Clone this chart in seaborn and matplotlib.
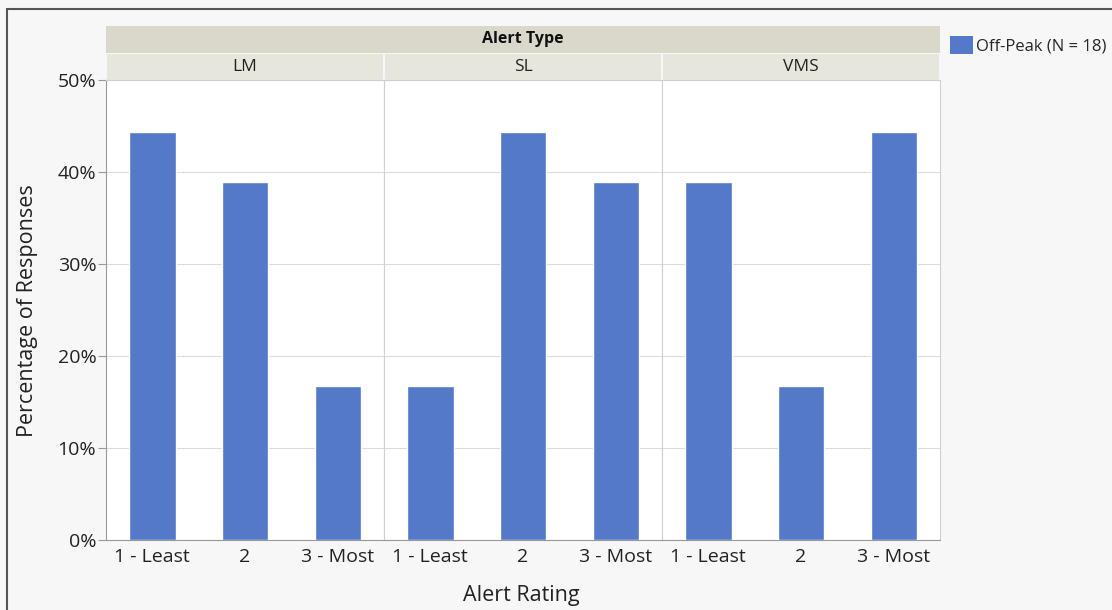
import numpy as np
import pandas as pd
import matplotlib
matplotlib.use("Agg")
import matplotlib.pyplot as plt
from matplotlib.patches import Rectangle, Patch
from matplotlib.lines import Line2D
from matplotlib.ticker import PercentFormatter
import seaborn as sns

# chart data
alert_types = ["LM", "SL", "VMS"]
ratings = ["1 - Least", "2", "3 - Most"]
lm_pct = [44.4, 38.9, 16.7]
sl_pct = [16.7, 44.4, 38.9]
vms_pct = [38.9, 16.7, 44.4]
series_name = "Off-Peak (N = 18)"

df = pd.DataFrame({
    "type": np.repeat(alert_types, len(ratings)),
    "rating": ratings * len(alert_types),
    "pct": lm_pct + sl_pct + vms_pct,
})

sns.set_style("white")
plt.rcParams["font.family"] = ["Open Sans", "DejaVu Sans"]

W, H = 1112, 610
fig = plt.figure(figsize=(W / 100, H / 100), dpi=100)
fig.patch.set_facecolor("#f7f7f7")

bar_color = "#5479c8"
grid_color = "#dcdcdc"


def fx(px):
    return px / W


def fy(py):
    return 1 - py / H


# window frame lines
fig.add_artist(Line2D([fx(7), fx(7)], [0, fy(9)], color="#555555", lw=1.5))
fig.add_artist(Line2D([fx(7), 1], [fy(9), fy(9)], color="#555555", lw=1.5))

left, right = 106, 940
top, bottom = 80, 540
pw = (right - left) / 3

axes = []
for i, t in enumerate(alert_types):
    x0 = left + i * pw
    ax = fig.add_axes([fx(x0), fy(bottom), pw / W, (bottom - top) / H])
    sub = df[df["type"] == t]
    sns.barplot(data=sub, x="rating", y="pct", order=ratings, color=bar_color,
                width=0.5, saturation=1, ax=ax)
    ax.set_ylim(0, 50)
    ax.set_xlim(-0.5, 2.5)
    ax.set_yticks([0, 10, 20, 30, 40, 50])
    ax.yaxis.grid(True, color=grid_color, lw=0.8)
    ax.set_axisbelow(True)
    ax.set_xlabel("")
    ax.set_ylabel("")
    ax.tick_params(axis="x", labelsize=14, length=0, pad=6, colors="#222222")
    for s in ax.spines.values():
        s.set_color("#d0d0d0")
        s.set_linewidth(0.8)
    if i == 0:
        ax.yaxis.set_major_formatter(PercentFormatter(decimals=0))
        ax.tick_params(axis="y", labelsize=14, length=6, color="#999999",
                       colors="#222222", left=True, pad=1)
        ax.spines["left"].set_color("#999999")
    else:
        ax.tick_params(axis="y", left=False, labelleft=False)
    ax.spines["bottom"].set_color("#999999")
    for lab in ax.get_yticklabels():
        lab.set_color("#222222")
    axes.append(ax)

    # facet strip
    fig.add_artist(Rectangle((fx(x0 + 1), fy(80)), (pw - 2) / W, 26 / H,
                             facecolor="#e6e6dd", edgecolor="none"))
    fig.text(fx(x0 + pw / 2), fy(67), t, ha="center", va="center",
             fontsize=12.5, color="#222222")

# header band
fig.add_artist(Rectangle((fx(left), fy(53)), (right - left) / W, 27 / H,
                         facecolor="#dad8ca", edgecolor="none"))
fig.text(fx((left + right) / 2), fy(39), "Alert Type", ha="center", va="center",
         fontsize=11.5, fontweight="bold", color="#111111")

fig.text(fx(28), fy(311), "Percentage of Responses", rotation=90,
         ha="center", va="center", fontsize=15.5, color="#222222")
fig.text(fx(521), fy(595), "Alert Rating", ha="center", va="center",
         fontsize=15.5, color="#222222")

fig.legend(handles=[Patch(facecolor=bar_color, edgecolor="none", label=series_name)],
           loc="upper left", bbox_to_anchor=(fx(940), fy(26)), frameon=False,
           fontsize=12, handlelength=1.4, handleheight=1.3, handletextpad=0.15,
           borderaxespad=0.2)

fig.savefig("out.png", dpi=100, facecolor=fig.get_facecolor())
